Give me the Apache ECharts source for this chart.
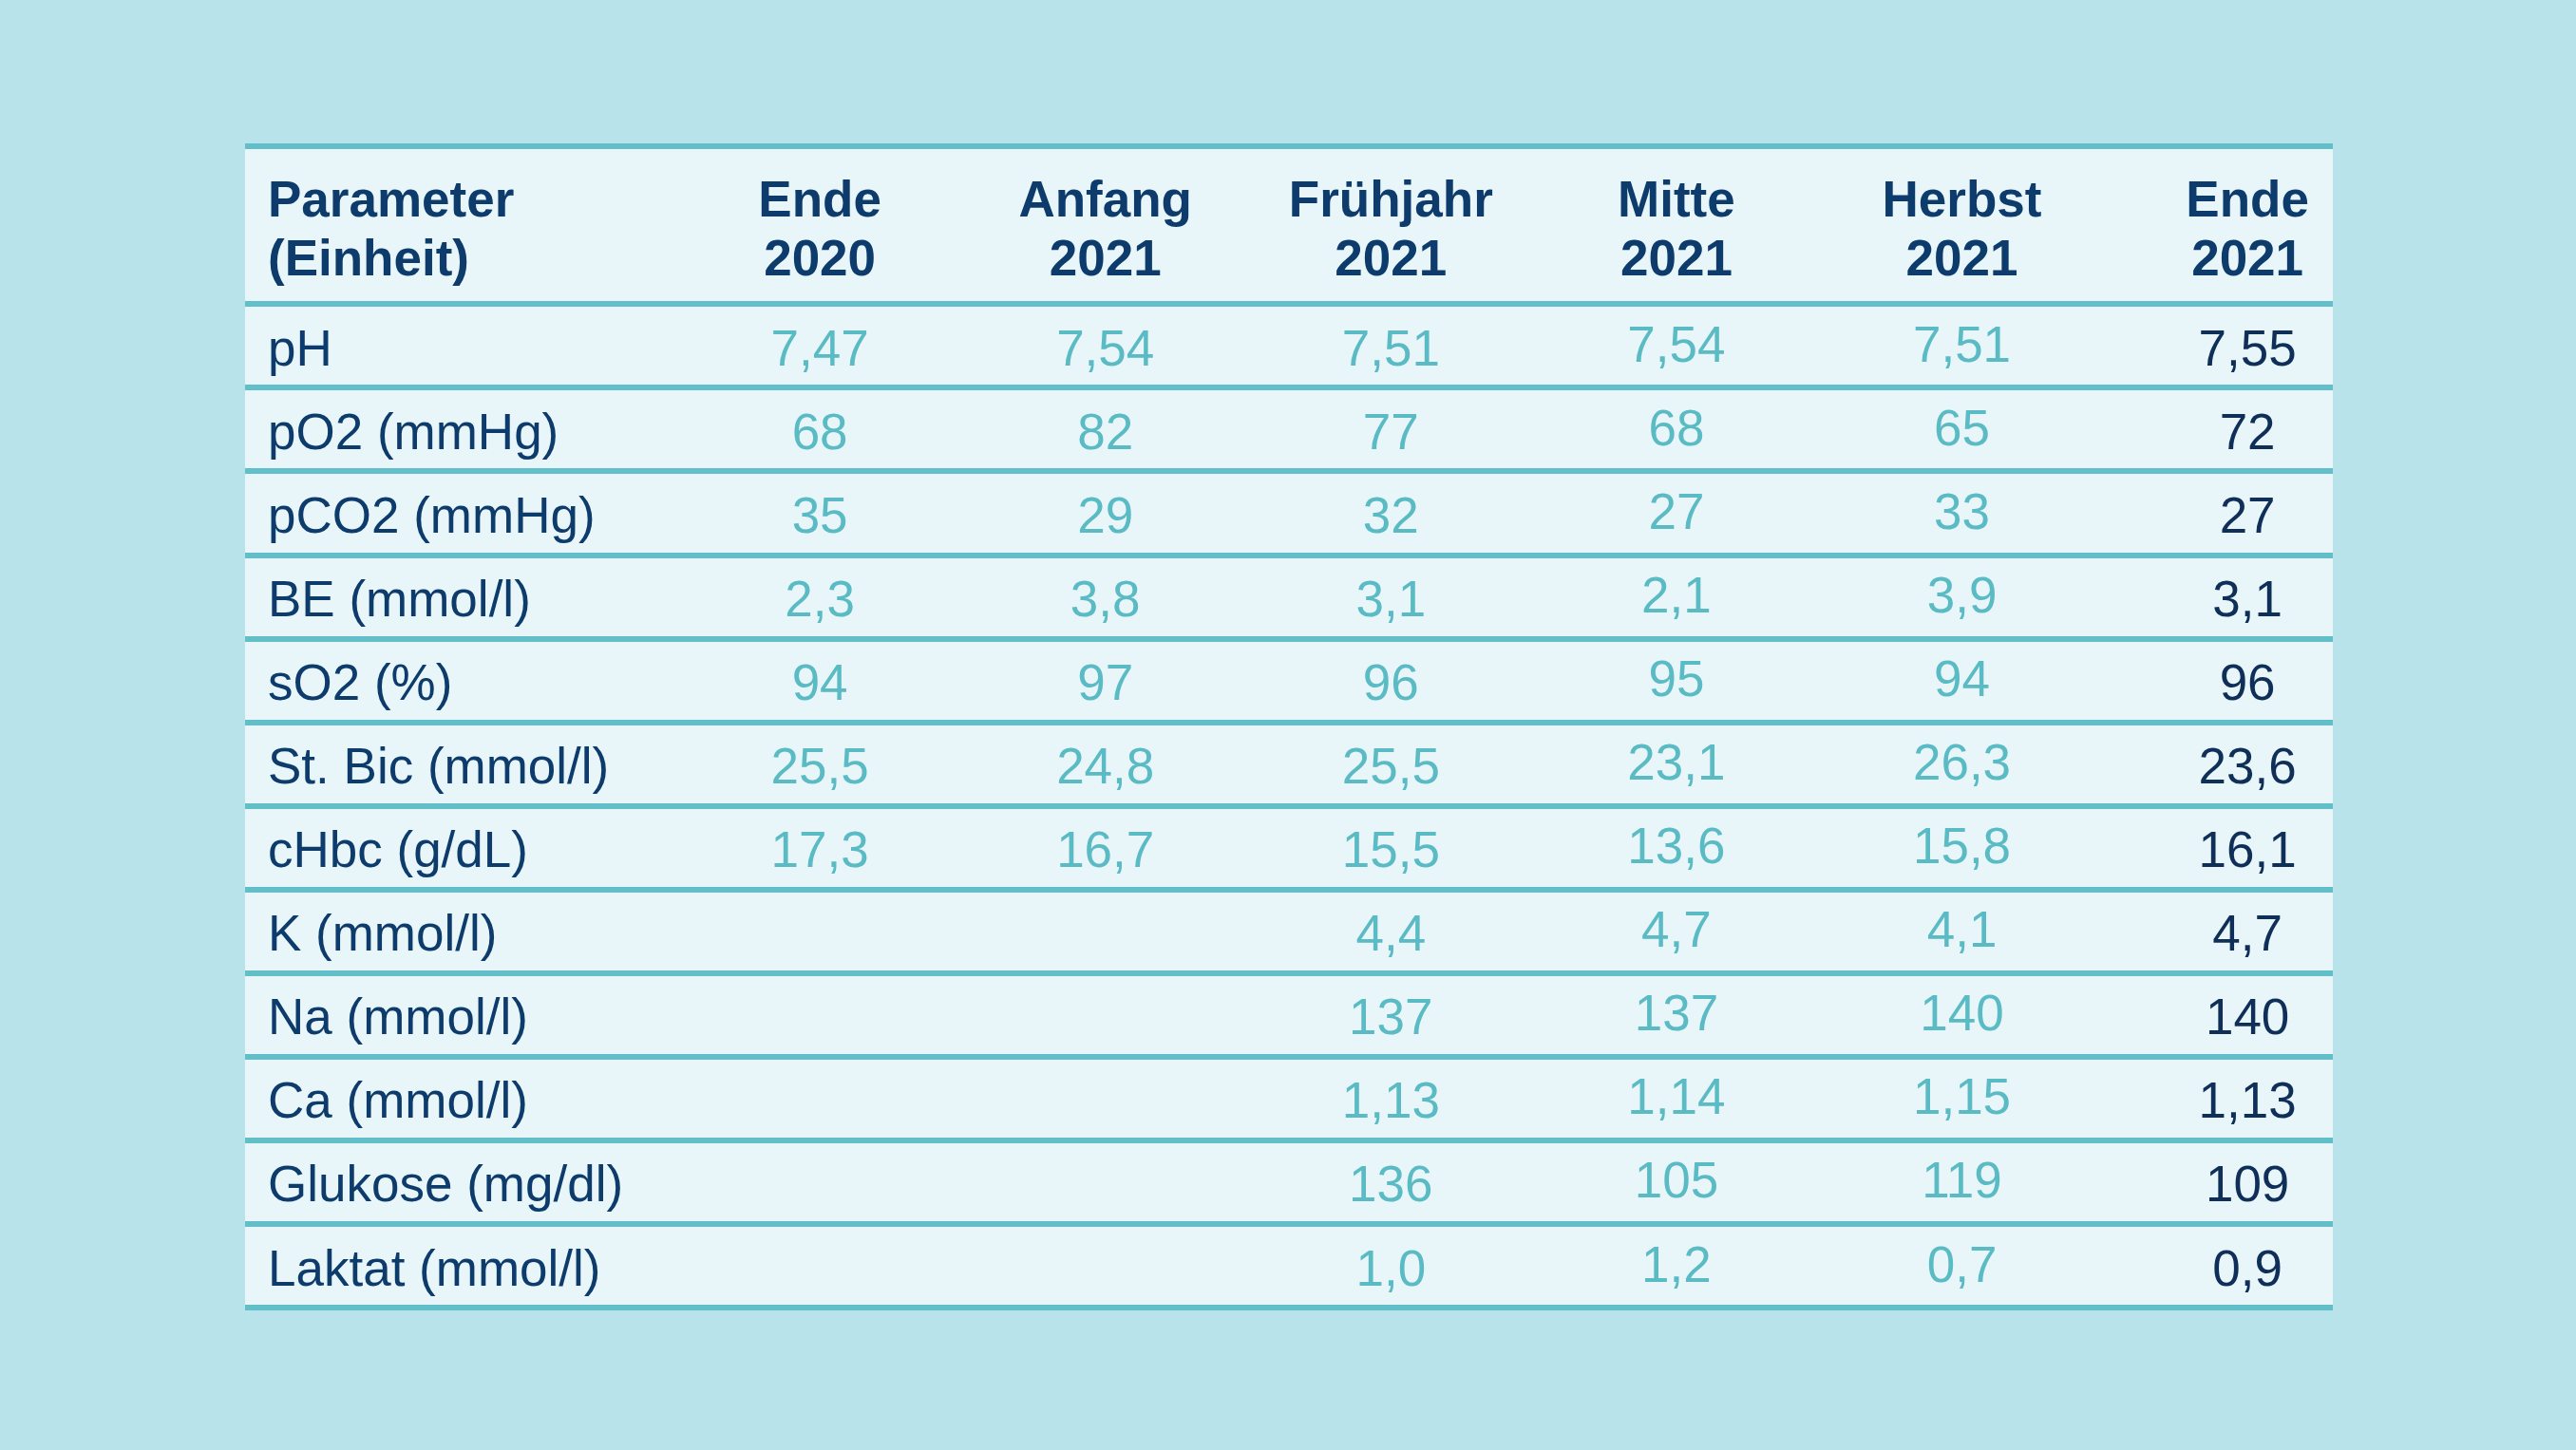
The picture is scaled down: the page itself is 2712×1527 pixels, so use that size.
<!DOCTYPE html>
<html>
<head>
<meta charset="utf-8">
<script src="https://cdn.jsdelivr.net/npm/echarts@6/dist/echarts.min.js"></script>
<style>html,body{margin:0;padding:0;background:#b9e3ea;}#c{width:2712px;height:1527px;}</style>
</head>
<body>
<div id="c"></div>
<script>
// ---- data ----
const headerParam = ['Parameter\n(Einheit)'];
const columns = ['Ende\n2020', 'Anfang\n2021', 'Frühjahr\n2021', 'Mitte\n2021', 'Herbst\n2021', 'Ende\n2021'];
const params = ['pH', 'pO2 (mmHg)', 'pCO2 (mmHg)', 'BE (mmol/l)', 'sO2 (%)', 'St. Bic (mmol/l)',
  'cHbc (g/dL)', 'K (mmol/l)', 'Na (mmol/l)', 'Ca (mmol/l)', 'Glukose (mg/dl)', 'Laktat (mmol/l)'];
const ende2020 = ['7,47', '68', '35', '2,3', '94', '25,5', '17,3', '', '', '', '', ''];
const anfang2021 = ['7,54', '82', '29', '3,8', '97', '24,8', '16,7', '', '', '', '', ''];
const fruehjahr2021 = ['7,51', '77', '32', '3,1', '96', '25,5', '15,5', '4,4', '137', '1,13', '136', '1,0'];
const mitte2021 = ['7,54', '68', '27', '2,1', '95', '23,1', '13,6', '4,7', '137', '1,14', '105', '1,2'];
const herbst2021 = ['7,51', '65', '33', '3,9', '94', '26,3', '15,8', '4,1', '140', '1,15', '119', '0,7'];
const ende2021 = ['7,55', '72', '27', '3,1', '96', '23,6', '16,1', '4,7', '140', '1,13', '109', '0,9'];
const valueColumns = [ende2020, anfang2021, fruehjahr2021, mitte2021, herbst2021, ende2021];

// ---- styles ----
const FONT = '"Liberation Sans", Arial, Helvetica, sans-serif';
const NAVY = '#0d3b6c';
const NAVY_DARK = '#102f58';
const TEAL = '#5abbc4';
const LINE = '#62bfc9';
const FILL = '#e8f6f9';
const LW = 6;
const xMin = -2.013, xMax = 5.299;

const chart = echarts.init(document.getElementById('c'));

const bodySeries = valueColumns.map((col, ci) => ({
  type: 'scatter',
  xAxisIndex: 1, yAxisIndex: 1,
  symbolSize: 1,
  itemStyle: { color: 'rgba(0,0,0,0)', opacity: 1 },
  silent: true,
  data: col.map((v, ri) => v === '' ? null : { value: [ci, ri], txt: v }).filter(d => d),
  label: {
    show: true, position: 'inside',
    formatter: p => p.data.txt,
    fontFamily: FONT, fontSize: 53,
    color: ci === 5 ? NAVY_DARK : TEAL,
    offset: (ci === 3 || ci === 4) ? [0, 2] : [0, 6]
  }
}));

const headerSeries = {
  type: 'scatter',
  xAxisIndex: 0, yAxisIndex: 0,
  symbolSize: 1,
  itemStyle: { color: 'rgba(0,0,0,0)', opacity: 1 },
  silent: true,
  data: columns.map((c, ci) => ({ value: [ci, 0], txt: c })),
  label: {
    show: true, position: 'inside',
    formatter: p => p.data.txt,
    fontFamily: FONT, fontSize: 53, fontWeight: 'bold',
    lineHeight: 62, color: NAVY, offset: [0, 7]
  }
};

const yBase = {
  type: 'category', inverse: true,
  axisLine: { show: false }, axisTick: { show: false },
  splitLine: { show: true, interval: 0, lineStyle: { color: LINE, width: LW } }
};
const xBase = { type: 'value', min: xMin, max: xMax, show: false };

chart.setOption({
  backgroundColor: '#b9e3ea',
  animation: false,
  grid: [
    { left: 258, right: 256, top: 154, height: 166, show: true, backgroundColor: FILL, borderWidth: 0 },
    { left: 258, right: 256, top: 320, bottom: 150, show: true, backgroundColor: FILL, borderWidth: 0 }
  ],
  xAxis: [
    Object.assign({ gridIndex: 0 }, xBase),
    Object.assign({ gridIndex: 1 }, xBase)
  ],
  yAxis: [
    Object.assign({}, yBase, {
      gridIndex: 0, data: headerParam,
      axisLabel: {
        interval: 0, align: 'left', margin: -24, color: NAVY,
        formatter: v => '{s| }\n' + v.split('\n').map(t => '{h|' + t + '}').join('\n'),
        rich: {
          s: { lineHeight: 14, fontSize: 1 },
          h: { lineHeight: 62, fontSize: 53, fontWeight: 'bold', fontFamily: FONT, color: NAVY, align: 'left' }
        }
      }
    }),
    Object.assign({}, yBase, {
      gridIndex: 1, data: params,
      axisLabel: {
        interval: 0, align: 'left', margin: -24, color: NAVY,
        formatter: v => '{s| }\n{b|' + v + '}',
        rich: {
          s: { lineHeight: 12, fontSize: 1 },
          b: { lineHeight: 60, fontSize: 53, fontFamily: FONT, color: NAVY, align: 'left' }
        }
      }
    })
  ],
  series: [headerSeries].concat(bodySeries)
});
</script>
</body>
</html>
